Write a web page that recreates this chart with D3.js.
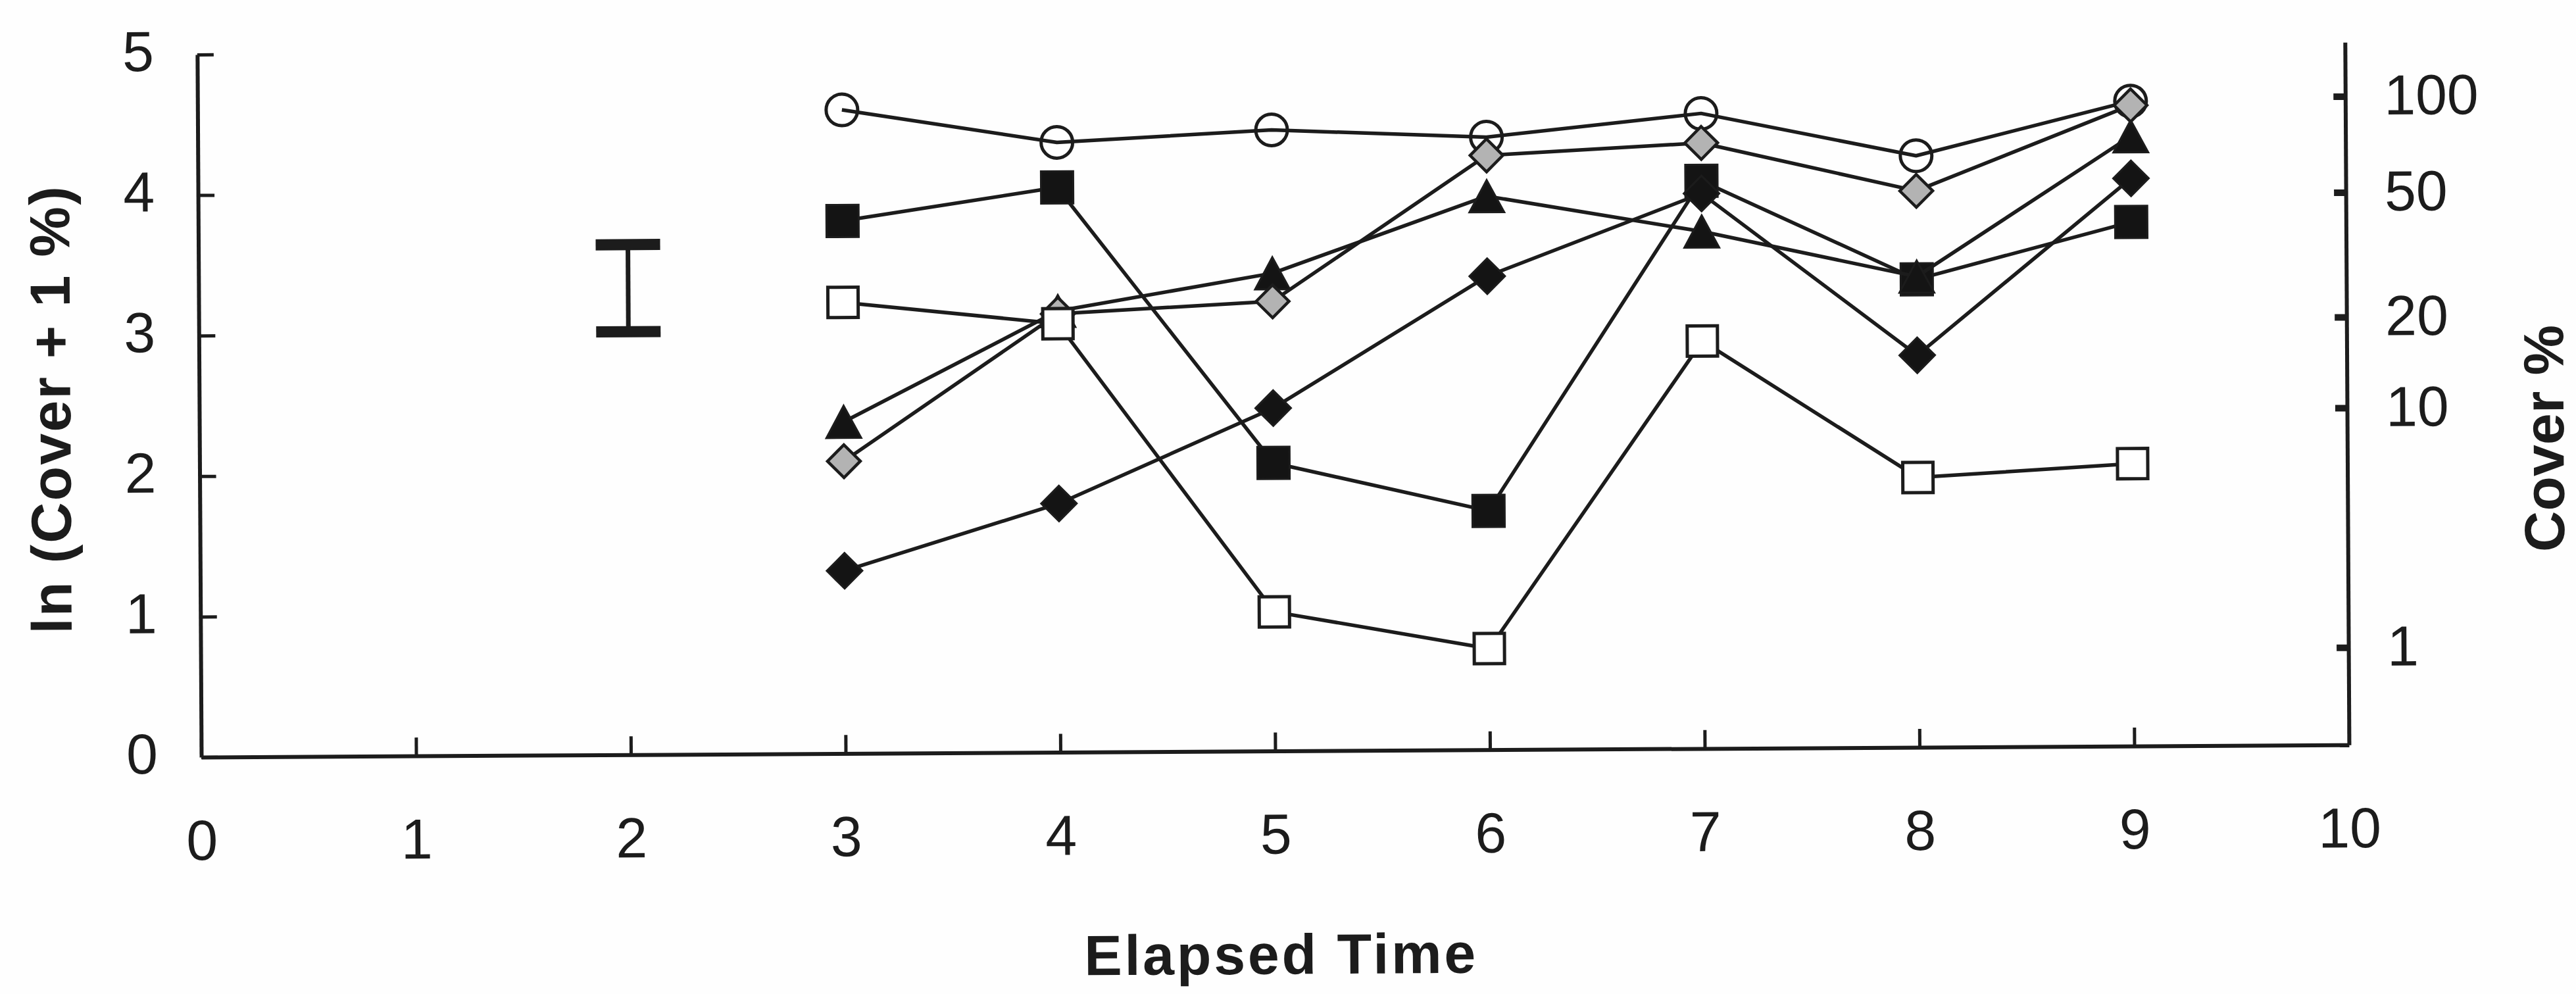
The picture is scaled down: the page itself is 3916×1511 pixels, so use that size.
<!DOCTYPE html>
<html>
<head>
<meta charset="utf-8">
<script src="https://cdn.jsdelivr.net/npm/d3@7"></script>
<style>
  html, body { margin: 0; padding: 0; background: #ffffff; }
  svg { display: block; }
</style>
</head>
<body>
<svg id="chart" width="3916" height="1511"></svg>
<script>
// ---- data: ln(cover + 1 %) per elapsed time step ----
const elapsedTime = [3, 4, 5, 6, 7, 8, 9];
const openCircle   = [4.58, 4.34, 4.42, 4.36, 4.52, 4.21, 4.59];
const filledSquare = [3.79, 4.02, 2.05, 1.70, 4.04, 3.33, 3.73];
const filledTriangle = [2.36, 3.14, 3.40, 3.94, 3.68, 3.35, 4.34];
const greyDiamond  = [2.08, 3.12, 3.20, 4.23, 4.31, 3.96, 4.56];
const openSquare   = [3.21, 3.05, 0.99, 0.72, 2.90, 1.92, 2.01];
const blackDiamond = [1.30, 1.77, 2.44, 3.37, 3.95, 2.79, 4.04];

// representative error bar drawn at time 2
const errorBarTime = 2;
const errorBarRange = [3.01, 3.63];

// axis ticks
const timeTicks = [0, 1, 2, 3, 4, 5, 6, 7, 8, 9, 10];
const lnTicks = [0, 1, 2, 3, 4, 5];
const coverTicks = [1, 10, 20, 50, 100];

// ---- layout ----
const W = 3916, H = 1511;
const ink = "#1c1c1c";
const font = "'Liberation Sans', Arial, Helvetica, sans-serif";

const xScale = d3.scaleLinear().domain([0, 10]).range([306, 3571]);
const yScale = d3.scaleLinear().domain([0, 5]).range([1151, 83]);

const svg = d3.select("#chart");
svg.append("rect").attr("width", W).attr("height", H).attr("fill", "#fefefe");

// the whole figure sits at a very slight tilt
const g = svg.append("g").attr("transform", `rotate(-0.33, ${xScale(0)}, ${yScale(0)})`);

// ---- axes ----
function styleAxis(sel, tickWidth) {
  sel.select(".domain").attr("stroke", ink).attr("stroke-width", 6).attr("fill", "none");
  sel.selectAll(".tick line").attr("stroke", ink).attr("stroke-width", tickWidth);
  sel.selectAll(".tick text")
    .attr("fill", ink)
    .style("font-family", font)
    .style("font-size", "86px");
}

const leftAxis = d3.axisLeft(yScale)
  .tickValues(lnTicks)
  .tickFormat(d3.format("d"))
  .tickSizeInner(-25)
  .tickSizeOuter(0)
  .tickPadding(66);
const gLeft = g.append("g")
  .attr("transform", `translate(${xScale(0)},0)`)
  .call(leftAxis);
styleAxis(gLeft, 5);
gLeft.selectAll(".tick text").attr("dy", "0.28em");

const bottomAxis = d3.axisBottom(xScale)
  .tickValues(timeTicks)
  .tickFormat(d3.format("d"))
  .tickSizeInner(-28)
  .tickSizeOuter(0)
  .tickPadding(95);
const gBottom = g.append("g")
  .attr("transform", `translate(0,${yScale(0)})`)
  .call(bottomAxis);
styleAxis(gBottom, 5);

const rightAxis = d3.axisRight(yScale)
  .tickValues(coverTicks.map(v => Math.log(v + 1)))
  .tickFormat((d, i) => String(coverTicks[i]))
  .tickSizeInner(-18)
  .tickSizeOuter(0)
  .tickPadding(59);
const gRight = g.append("g")
  .attr("transform", `translate(${xScale(10)},0)`)
  .call(rightAxis);
styleAxis(gRight, 10);
gRight.selectAll(".tick line").attr("x1", -2);

// ---- axis titles ----
function title(text, x, y, rotate, length) {
  g.append("text")
    .attr("transform", `translate(${x},${y})` + (rotate ? ` rotate(${rotate})` : ""))
    .attr("text-anchor", "middle")
    .attr("textLength", length)
    .attr("lengthAdjust", "spacing")
    .attr("fill", ink)
    .style("font-family", font)
    .style("font-size", "86px")
    .style("font-weight", "bold")
    .text(text);
}
title("ln (Cover + 1 %)", 110, 622, -90, 680);
title("Cover %", 3900, 687, -90, 345);
title("Elapsed Time", 1944, 1490, 0, 595);

// ---- error bar ----
const ebX = xScale(errorBarTime);
const eb = g.append("g").attr("stroke", ink);
eb.append("line")
  .attr("x1", ebX).attr("x2", ebX)
  .attr("y1", yScale(errorBarRange[0])).attr("y2", yScale(errorBarRange[1]))
  .attr("stroke-width", 7);
errorBarRange.forEach(v => {
  eb.append("line")
    .attr("x1", ebX - 49).attr("x2", ebX + 49)
    .attr("y1", yScale(v)).attr("y2", yScale(v))
    .attr("stroke-width", 17);
});

// ---- marker shapes ----
const diamondShape = {
  draw(ctx, size) {
    const r = Math.sqrt(size) / 2;
    ctx.moveTo(0, -r); ctx.lineTo(r, 0); ctx.lineTo(0, r); ctx.lineTo(-r, 0); ctx.closePath();
  }
};
const triangleShape = {
  draw(ctx, size) {
    const h = Math.sqrt(size) / 2;
    ctx.moveTo(0, -h); ctx.lineTo(h * 1.08, h); ctx.lineTo(-h * 1.08, h); ctx.closePath();
  }
};

const seriesStyles = [
  { values: openCircle,     type: d3.symbolCircle, size: Math.PI * 24 * 24, fill: "none",    sw: 5 },
  { values: filledSquare,   type: d3.symbolSquare, size: 49 * 49,           fill: "#141414", sw: 3 },
  { values: filledTriangle, type: triangleShape,   size: 49 * 49,           fill: "#141414", sw: 3 },
  { values: greyDiamond,    type: diamondShape,    size: 50 * 50,           fill: "#b3b3b3", sw: 4.5 },
  { values: openSquare,     type: d3.symbolSquare, size: 46 * 46,           fill: "#ffffff", sw: 5 },
  { values: blackDiamond,   type: diamondShape,    size: 54 * 54,           fill: "#141414", sw: 3 }
];

const line = d3.line()
  .x((d, i) => xScale(elapsedTime[i]))
  .y(d => yScale(d));

seriesStyles.forEach(s => {
  const sg = g.append("g");
  sg.append("path")
    .datum(s.values)
    .attr("d", line)
    .attr("fill", "none")
    .attr("stroke", ink)
    .attr("stroke-width", 5.5)
    .attr("stroke-linejoin", "round");
  const sym = d3.symbol().type(s.type).size(s.size);
  sg.selectAll("path.marker")
    .data(s.values)
    .join("path")
    .attr("class", "marker")
    .attr("transform", (d, i) => `translate(${xScale(elapsedTime[i])},${yScale(d)})`)
    .attr("d", sym)
    .attr("fill", s.fill)
    .attr("stroke", ink)
    .attr("stroke-width", s.sw);
});
</script>
</body>
</html>
